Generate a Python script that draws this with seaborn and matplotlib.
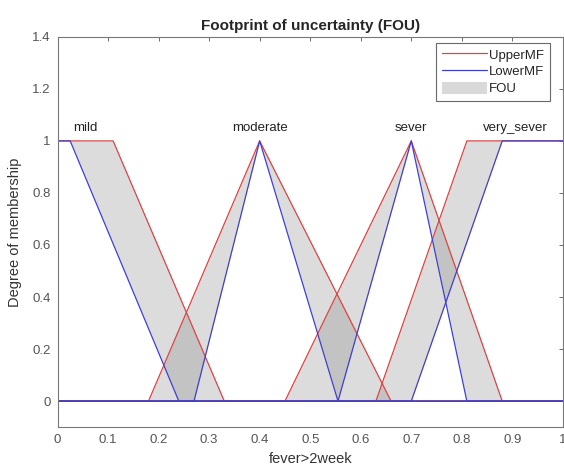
import numpy as np
import pandas as pd
import matplotlib
matplotlib.use('Agg')
import matplotlib.pyplot as plt
import seaborn as sns
from matplotlib.patches import Patch
from matplotlib.lines import Line2D

# membership function parameters (trapezoid a, b, c, d)
mf_names = ['mild', 'moderate', 'sever', 'very_sever']
upper_params = [[0.0, 0.0, 0.11, 0.33],
                [0.18, 0.4, 0.4, 0.66],
                [0.45, 0.7, 0.7, 0.88],
                [0.63, 0.81, 1.0, 1.0]]
lower_params = [[0.0, 0.0, 0.025, 0.24],
                [0.27, 0.4, 0.4, 0.555],
                [0.555, 0.7, 0.7, 0.81],
                [0.70, 0.88, 1.0, 1.0]]
xticks = [0, 0.1, 0.2, 0.3, 0.4, 0.5, 0.6, 0.7, 0.8, 0.9, 1]
xticklabels = ['0', '0.1', '0.2', '0.3', '0.4', '0.5', '0.6', '0.7', '0.8', '0.9', '1']
yticks = [0, 0.2, 0.4, 0.6, 0.8, 1, 1.2, 1.4]
yticklabels = ['0', '0.2', '0.4', '0.6', '0.8', '1', '1.2', '1.4']


def trapmf(x, p):
    a, b, c, d = p
    left = (x - a) / (b - a) if b > a else np.where(x >= a, 1.0, 0.0)
    right = (d - x) / (d - c) if d > c else np.where(x <= d, 1.0, 0.0)
    return np.clip(np.minimum(left, right), 0, 1)


sns.set_style('white')
plt.rcParams['font.family'] = ['Liberation Sans', 'DejaVu Sans']

x = np.linspace(0, 1, 2001)
fig = plt.figure(figsize=(5.64, 4.72), dpi=100)
ax = fig.add_axes([0.102, 0.095, 0.896, 0.827])

red = '#d94545'
blue = '#4040c8'

rows = []
for name, up, lo in zip(mf_names, upper_params, lower_params):
    yu = trapmf(x, up)
    yl = trapmf(x, lo)
    ax.fill_between(x, yl, yu, color='#808080', alpha=0.27, linewidth=0)
    rows.append(pd.DataFrame({'x': x, 'y': yu, 'mf': name, 'kind': 'UpperMF'}))
    rows.append(pd.DataFrame({'x': x, 'y': yl, 'mf': name, 'kind': 'LowerMF'}))
df = pd.concat(rows, ignore_index=True)

sns.lineplot(data=df[df.kind == 'UpperMF'], x='x', y='y', units='mf', estimator=None,
             color=red, linewidth=0.9, ax=ax, legend=False)
sns.lineplot(data=df[df.kind == 'LowerMF'], x='x', y='y', units='mf', estimator=None,
             color=blue, linewidth=0.9, ax=ax, legend=False)

# labels centred on the upper MF plateau
for name, up in zip(mf_names, upper_params):
    ax.text((up[1] + up[2]) / 2, 1.025, name, ha='center', va='bottom',
            fontsize=9.5, color='#222222')

ax.set_xlim(0, 1)
ax.set_ylim(-0.1, 1.4)
ax.set_xticks(xticks)
ax.set_xticklabels(xticklabels)
ax.set_yticks(yticks)
ax.set_yticklabels(yticklabels)
ax.tick_params(direction='in', length=3, width=0.6, top=True, right=True,
               labelsize=9.5, colors='#555555', labelcolor='#555555', pad=5)
for s in ax.spines.values():
    s.set_color('#777777')
    s.set_linewidth(0.8)

ax.set_xlabel('fever>2week', fontsize=10.5, color='#333333', labelpad=4)
ax.set_ylabel('Degree of membership', fontsize=10.5, color='#333333', labelpad=7)
ax.set_title('Footprint of uncertainty (FOU)', fontsize=11, fontweight='bold', pad=5)

handles = [Line2D([], [], color=red, linewidth=0.9),
           Line2D([], [], color=blue, linewidth=0.9),
           Patch(facecolor='#d9d9d9', edgecolor='none')]
leg = ax.legend(handles, ['UpperMF', 'LowerMF', 'FOU'], loc='upper right',
                bbox_to_anchor=(0.974, 0.985), borderaxespad=0,
                fontsize=9.5, frameon=True, fancybox=False, handlelength=3.4,
                handleheight=1.05, labelspacing=0.25, handletextpad=0.2,
                borderpad=0.4)
leg.get_frame().set_edgecolor('#444444')
leg.get_frame().set_linewidth(0.8)

fig.savefig('out.png', dpi=100)
